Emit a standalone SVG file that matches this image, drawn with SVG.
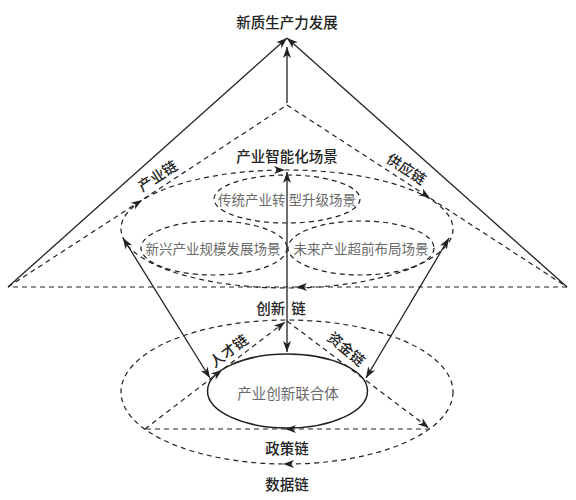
<svg xmlns="http://www.w3.org/2000/svg" width="576" height="500" viewBox="0 0 576 500">
<style>
.s{fill:none;stroke:#222;stroke-width:1.3}
.d{fill:none;stroke:#222;stroke-width:1.2;stroke-dasharray:5,4}
.e{marker-end:url(#ah)}
.m{marker-mid:url(#ah)}
.b{marker-start:url(#ahs);marker-end:url(#ah)}
.h{fill:none;stroke:none;marker-end:url(#ah)}
.lb{font-family:"Noto Sans CJK SC","Noto Sans",sans-serif;font-size:14.5px;font-weight:500;fill:#222;text-anchor:middle;dominant-baseline:central}
.gl{font-family:"Noto Sans CJK SC","Noto Sans",sans-serif;font-size:13.5px;fill:#6a6a6a;text-anchor:middle;dominant-baseline:central}
.gb{font-family:"Noto Sans CJK SC","Noto Sans",sans-serif;font-size:14.5px;fill:#6a6a6a;text-anchor:middle;dominant-baseline:central}
</style>
<defs>
<marker id="ah" markerUnits="userSpaceOnUse" markerWidth="12" markerHeight="9" refX="11" refY="4" orient="auto" overflow="visible">
<path d="M0,0 L11,4 L0,8 L3,4 z" fill="#222"/>
</marker>
<marker id="ahs" markerUnits="userSpaceOnUse" markerWidth="12" markerHeight="9" refX="11" refY="4" orient="auto-start-reverse" overflow="visible">
<path d="M0,0 L11,4 L0,8 L3,4 z" fill="#222"/>
</marker>
</defs>

<g id="title"><text class="lb" x="287" y="21">新质生产力发展</text></g>

<g id="upper-ellipse"><ellipse class="d" cx="287" cy="229" rx="166" ry="59"/><text class="lb" x="287" y="155">产业智能化场景</text></g>
<g id="scene-traditional"><ellipse class="d" cx="287" cy="199" rx="73" ry="24"/><text class="gl" x="287" y="199">传统产业转<tspan dx="3">型升级场景</tspan></text></g>
<g id="scene-emerging"><ellipse class="d" cx="214" cy="248" rx="73" ry="27"/><text class="gl" x="213" y="248">新兴产业规模发展场景</text></g>
<g id="scene-future"><ellipse class="d" cx="361" cy="248" rx="73" ry="27"/><text class="gl" x="361" y="248">未来产业超前布局场景</text></g>

<g id="lower-ellipse"><ellipse class="d" cx="287" cy="392" rx="166" ry="72"/></g>
<g id="alliance"><ellipse class="s" cx="287.5" cy="391" rx="80" ry="37" style="stroke-width:1.5"/><text class="gb" x="288" y="392">产业创新联合体</text></g>

<g id="connectors">
<path class="s e" d="M8,287 L287,38"/>
<path class="s e" d="M567,287 L287,38"/>
<path class="s e" d="M287,103 L287,47"/>
<path class="d m" d="M8,287 L142,200 L287,105"/>
<path class="d m" d="M287,105 L430,198 L567,287"/>
<path class="d m" d="M567,287 L296,287 L8,287"/>
<path class="h" d="M278,170 L285,170"/>
<path class="s e" d="M287,321 L287,172"/>
<path class="s e" d="M287,321 L287,352"/>
<path class="s b" d="M210,378 L123,238"/>
<path class="s b" d="M366,378 L449,238"/>
<path class="d m e" d="M145,429 L222,370 L285,322"/>
<path class="d e" d="M287,321 L429,428"/>
<path class="d m" d="M430,429 L285,429 L145,429"/>
<path class="h" d="M292,464 L283,464"/>
</g>

<g id="labels">
<text class="lb" transform="translate(157,175) rotate(-33)">产业链</text>
<text class="lb" transform="translate(407,168) rotate(33)">供应链</text>
<text class="lb" x="281" y="307">创新<tspan dx="6">链</tspan></text>
<text class="lb" transform="translate(228,350) rotate(-37)">人才链</text>
<text class="lb" transform="translate(347,348) rotate(40)">资金链</text>
<text class="lb" x="287" y="447">政策链</text>
<text class="lb" x="287" y="483">数据链</text>
</g>
</svg>
